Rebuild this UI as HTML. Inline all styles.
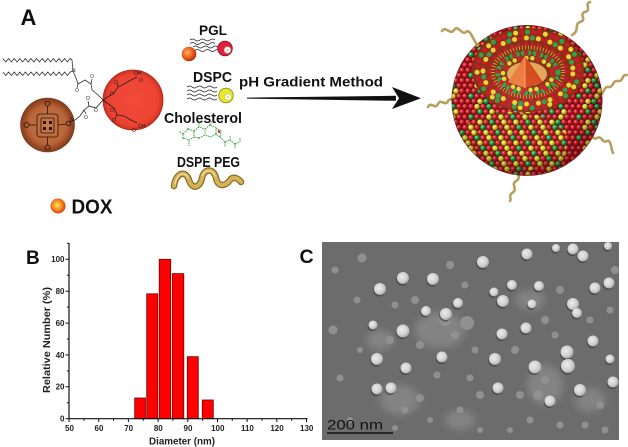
<!DOCTYPE html>
<html><head><meta charset="utf-8">
<style>
html,body{margin:0;padding:0;background:#fff;}
svg{display:block;}
text{font-family:"Liberation Sans",Arial,sans-serif;}
</style></head><body>
<svg width="628" height="447" viewBox="0 0 628 447" xmlns="http://www.w3.org/2000/svg" xmlns:xlink="http://www.w3.org/1999/xlink">
<defs>
 <radialGradient id="gR" cx="0.35" cy="0.35" r="0.7"><stop offset="0" stop-color="#ff9a90"/><stop offset="0.4" stop-color="#e02030"/><stop offset="1" stop-color="#800a14"/></radialGradient>
 <radialGradient id="gY" cx="0.35" cy="0.35" r="0.7"><stop offset="0" stop-color="#ffffc0"/><stop offset="0.4" stop-color="#e4dc30"/><stop offset="1" stop-color="#8c8010"/></radialGradient>
 <radialGradient id="gG" cx="0.35" cy="0.35" r="0.7"><stop offset="0" stop-color="#b0f0b0"/><stop offset="0.4" stop-color="#22a848"/><stop offset="1" stop-color="#0c5424"/></radialGradient>
 <radialGradient id="gDox" cx="0.45" cy="0.45" r="0.6"><stop offset="0" stop-color="#ffe060"/><stop offset="0.5" stop-color="#f89020"/><stop offset="1" stop-color="#c83010"/></radialGradient>
 <radialGradient id="gOr" cx="0.4" cy="0.4" r="0.65"><stop offset="0" stop-color="#ffb060"/><stop offset="0.6" stop-color="#e85a18"/><stop offset="1" stop-color="#a02808"/></radialGradient>
 <radialGradient id="gBrown" cx="0.5" cy="0.5" r="0.5"><stop offset="0" stop-color="#c87a4a"/><stop offset="0.7" stop-color="#b86438"/><stop offset="0.85" stop-color="#9c4c28"/><stop offset="1" stop-color="#7e3a1c"/></radialGradient>
 <radialGradient id="gRed" cx="0.5" cy="0.5" r="0.5"><stop offset="0" stop-color="#f24c3c"/><stop offset="0.85" stop-color="#ec4232"/><stop offset="1" stop-color="#c83022"/></radialGradient>
 <radialGradient id="shade" cx="0.45" cy="0.42" r="0.58"><stop offset="0" stop-color="#fff" stop-opacity="0.08"/><stop offset="0.75" stop-color="#000" stop-opacity="0"/><stop offset="1" stop-color="#3c0000" stop-opacity="0.35"/></radialGradient>
 <radialGradient id="pg" cx="0.4" cy="0.4" r="0.6"><stop offset="0" stop-color="#ececec"/><stop offset="0.7" stop-color="#cfcfcf"/><stop offset="1" stop-color="#a8a8a8"/></radialGradient>
 <pattern id="patA" patternUnits="userSpaceOnUse" width="36" height="20.8">
  <rect width="36" height="20.8" fill="#5a0c0c"/>
  <circle cx="3" cy="2.6" r="2.8" fill="url(#gR)"/><circle cx="9" cy="2.6" r="2.8" fill="url(#gY)"/><circle cx="15" cy="2.6" r="2.8" fill="url(#gR)"/><circle cx="21" cy="2.6" r="2.8" fill="url(#gG)"/><circle cx="27" cy="2.6" r="2.8" fill="url(#gR)"/><circle cx="33" cy="2.6" r="2.8" fill="url(#gR)"/>
  <circle cx="0" cy="7.8" r="2.8" fill="url(#gR)"/><circle cx="6" cy="7.8" r="2.8" fill="url(#gR)"/><circle cx="12" cy="7.8" r="2.8" fill="url(#gG)"/><circle cx="18" cy="7.8" r="2.8" fill="url(#gR)"/><circle cx="24" cy="7.8" r="2.8" fill="url(#gY)"/><circle cx="30" cy="7.8" r="2.8" fill="url(#gR)"/><circle cx="36" cy="7.8" r="2.8" fill="url(#gR)"/>
  <circle cx="3" cy="13" r="2.8" fill="url(#gG)"/><circle cx="9" cy="13" r="2.8" fill="url(#gR)"/><circle cx="15" cy="13" r="2.8" fill="url(#gR)"/><circle cx="21" cy="13" r="2.8" fill="url(#gY)"/><circle cx="27" cy="13" r="2.8" fill="url(#gR)"/><circle cx="33" cy="13" r="2.8" fill="url(#gR)"/>
  <circle cx="0" cy="18.2" r="2.8" fill="url(#gR)"/><circle cx="6" cy="18.2" r="2.8" fill="url(#gR)"/><circle cx="12" cy="18.2" r="2.8" fill="url(#gY)"/><circle cx="18" cy="18.2" r="2.8" fill="url(#gG)"/><circle cx="24" cy="18.2" r="2.8" fill="url(#gR)"/><circle cx="30" cy="18.2" r="2.8" fill="url(#gR)"/><circle cx="36" cy="18.2" r="2.8" fill="url(#gR)"/>
 </pattern>
 <pattern id="patB" patternUnits="userSpaceOnUse" width="36" height="20.8">
  <rect width="36" height="20.8" fill="#5a200c"/>
  <circle cx="3" cy="2.6" r="2.8" fill="url(#gY)"/><circle cx="9" cy="2.6" r="2.8" fill="url(#gR)"/><circle cx="15" cy="2.6" r="2.8" fill="url(#gG)"/><circle cx="21" cy="2.6" r="2.8" fill="url(#gR)"/><circle cx="27" cy="2.6" r="2.8" fill="url(#gY)"/><circle cx="33" cy="2.6" r="2.8" fill="url(#gR)"/>
  <circle cx="0" cy="7.8" r="2.8" fill="url(#gR)"/><circle cx="6" cy="7.8" r="2.8" fill="url(#gY)"/><circle cx="12" cy="7.8" r="2.8" fill="url(#gR)"/><circle cx="18" cy="7.8" r="2.8" fill="url(#gY)"/><circle cx="24" cy="7.8" r="2.8" fill="url(#gR)"/><circle cx="30" cy="7.8" r="2.8" fill="url(#gG)"/><circle cx="36" cy="7.8" r="2.8" fill="url(#gR)"/>
  <circle cx="3" cy="13" r="2.8" fill="url(#gR)"/><circle cx="9" cy="13" r="2.8" fill="url(#gG)"/><circle cx="15" cy="13" r="2.8" fill="url(#gR)"/><circle cx="21" cy="13" r="2.8" fill="url(#gY)"/><circle cx="27" cy="13" r="2.8" fill="url(#gR)"/><circle cx="33" cy="13" r="2.8" fill="url(#gY)"/>
  <circle cx="0" cy="18.2" r="2.8" fill="url(#gY)"/><circle cx="6" cy="18.2" r="2.8" fill="url(#gR)"/><circle cx="12" cy="18.2" r="2.8" fill="url(#gY)"/><circle cx="18" cy="18.2" r="2.8" fill="url(#gR)"/><circle cx="24" cy="18.2" r="2.8" fill="url(#gG)"/><circle cx="30" cy="18.2" r="2.8" fill="url(#gR)"/><circle cx="36" cy="18.2" r="2.8" fill="url(#gY)"/>
 </pattern>
 <clipPath id="sph"><circle cx="527" cy="100.5" r="75"/></clipPath>
 <clipPath id="tem"><rect x="322" y="242" width="297" height="198"/></clipPath>
 <filter id="bl" x="-50%" y="-50%" width="200%" height="200%"><feGaussianBlur stdDeviation="4"/></filter>
 <g id="bp">
  <circle cx="403" cy="278" r="6"/><circle cx="433" cy="279" r="6"/><circle cx="380" cy="289" r="6"/><circle cx="483" cy="262" r="6"/><circle cx="527" cy="254" r="5.5"/><circle cx="573" cy="249" r="5.5"/><circle cx="583" cy="256" r="5.5"/><circle cx="595" cy="288" r="5.5"/><circle cx="609" cy="283" r="5.5"/><circle cx="512" cy="285" r="5"/><circle cx="539" cy="286" r="5"/><circle cx="503" cy="301" r="6"/><circle cx="494" cy="292" r="4.5"/><circle cx="458" cy="303" r="5"/><circle cx="426" cy="311" r="5"/><circle cx="446" cy="314" r="6"/><circle cx="532" cy="304" r="4.5"/><circle cx="573" cy="304" r="6"/><circle cx="577" cy="313" r="5"/><circle cx="373" cy="325" r="4.5"/><circle cx="403" cy="331" r="6.5"/><circle cx="502" cy="334" r="5.5"/><circle cx="526" cy="328" r="5.5"/><circle cx="593" cy="341" r="5.5"/><circle cx="377" cy="359" r="6"/><circle cx="442" cy="357" r="5.5"/><circle cx="495" cy="359" r="6"/><circle cx="535" cy="367" r="6.5"/><circle cx="567" cy="352" r="6.5"/><circle cx="568" cy="366" r="7"/><circle cx="610" cy="359" r="4.5"/><circle cx="406" cy="368" r="5.5"/><circle cx="377" cy="389" r="5.5"/><circle cx="391" cy="388" r="5.5"/><circle cx="498" cy="388" r="5.5"/><circle cx="580" cy="390" r="6"/><circle cx="613" cy="382" r="5.5"/><circle cx="550" cy="401" r="5.5"/><circle cx="556" cy="248" r="4"/><circle cx="608" cy="246" r="4"/>
 </g>
 <g id="dp">
  <circle cx="333" cy="330" r="4.5"/><circle cx="362" cy="258" r="4.5"/><circle cx="467" cy="323" r="7"/><circle cx="445" cy="320" r="6"/><circle cx="340" cy="378" r="3.5"/><circle cx="357" cy="300" r="3.5"/><circle cx="390" cy="340" r="4"/><circle cx="420" cy="345" r="4"/><circle cx="455" cy="335" r="4"/><circle cx="470" cy="378" r="3.5"/><circle cx="335" cy="270" r="3.5"/><circle cx="360" cy="350" r="3"/><circle cx="415" cy="300" r="4"/><circle cx="437" cy="375" r="3.5"/><circle cx="420" cy="398" r="4"/><circle cx="405" cy="410" r="3.5"/><circle cx="430" cy="420" r="3"/><circle cx="460" cy="410" r="3.5"/><circle cx="480" cy="395" r="4"/><circle cx="475" cy="350" r="3.5"/><circle cx="515" cy="350" r="4"/><circle cx="520" cy="395" r="4"/><circle cx="545" cy="320" r="4"/><circle cx="555" cy="335" r="3.5"/><circle cx="560" cy="290" r="4"/><circle cx="590" cy="320" r="3.5"/><circle cx="600" cy="405" r="4"/><circle cx="585" cy="425" r="3.5"/><circle cx="560" cy="425" r="3.5"/><circle cx="530" cy="420" r="3.5"/><circle cx="510" cy="430" r="3"/><circle cx="480" cy="430" r="3"/><circle cx="610" cy="310" r="3.5"/><circle cx="615" cy="270" r="4"/><circle cx="450" cy="265" r="4"/><circle cx="465" cy="285" r="3.5"/><circle cx="350" cy="420" r="3"/><circle cx="395" cy="428" r="3"/><circle cx="538" cy="395" r="5"/><circle cx="545" cy="380" r="4"/><circle cx="395" cy="305" r="3.5"/><circle cx="605" cy="430" r="3.5"/>
 </g>
</defs>

<rect width="628" height="447" fill="#fff"/>

<!-- ===== Panel A ===== -->
<text x="20.5" y="25" font-size="22" font-weight="bold" fill="#111">A</text>

<g fill="none" stroke="#333" stroke-width="0.8">
 <polyline points="3,58.5 5.8,62 8.6,58.5 11.4,62 14.2,58.5 17,62 19.8,58.5 22.6,62 25.4,58.5 28.2,62 31,58.5 33.8,62 36.6,58.5 39.4,62 42.2,58.5 45,62 47.8,58.5 50.6,62 53.4,58.5 56.2,62 59,58.5 61.8,62 64.6,58.5 67.4,62 70.2,58.5 72,60 73,71"/>
 <polyline points="3,72 5.8,75.5 8.6,72 11.4,75.5 14.2,72 17,75.5 19.8,72 22.6,75.5 25.4,72 28.2,75.5 31,72 33.8,75.5 36.6,72 39.4,75.5 42.2,72 45,75.5 47.8,72 50.6,75.5 53.4,72 56.2,75.5 59,72 61.8,75.5 64.6,72 67.4,75.5 70.2,72 73,71"/>
 <polyline points="73,71 76,78 78,84 85,80 91,84 92,90 97,94 103,100"/>
 <line x1="78" y1="84" x2="77" y2="88"/>
 <line x1="91" y1="84" x2="92" y2="79"/>
</g>
<text x="75" y="92" font-size="5" fill="#333">O</text>
<text x="90" y="78" font-size="5" fill="#333">O</text>

<circle cx="47.5" cy="125" r="27.3" fill="url(#gBrown)"/>
<g fill="none" stroke="#2a140a" stroke-width="0.8">
 <rect x="37" y="114" width="21" height="23" rx="3"/>
 <rect x="41" y="118" width="13" height="15" rx="1"/>
 <line x1="47.5" y1="114" x2="47.5" y2="106"/><line x1="47.5" y1="137" x2="47.5" y2="145"/>
 <line x1="37" y1="125" x2="29" y2="125"/><line x1="58" y1="125" x2="66" y2="124"/>
 <circle cx="47.5" cy="103.5" r="2.5"/><circle cx="47.5" cy="147.5" r="2.5"/><circle cx="26.5" cy="125" r="2.5"/><circle cx="68.5" cy="123.5" r="2.3"/>
</g>
<g fill="#2a140a"><rect x="43" y="121" width="3" height="3"/><rect x="49" y="121" width="3" height="3"/><rect x="43" y="127" width="3" height="3"/><rect x="49" y="127" width="3" height="3"/></g>

<circle cx="133" cy="100" r="30" fill="url(#gRed)" stroke="#b02818" stroke-width="0.8"/>
<g fill="none" stroke="#222" stroke-width="0.8">
 <polyline points="103,100 114,93 118,87 124,84 131,80 137,77"/>
 <line x1="118" y1="87" x2="117" y2="83"/>
 <polyline points="103,100 114,108 117,115 124,116 131,120 137,123"/>
 <line x1="117" y1="115" x2="115" y2="119"/>
 <polyline points="103,100 96,108 89,106 88,101"/>
 <polyline points="89,106 84,110 80,116 75,120 69,122"/>
 <line x1="84" y1="110" x2="86" y2="114"/>
</g>
<g font-size="5" fill="#222">
 <text x="134" y="75">OH</text><text x="139" y="82">O</text>
 <text x="138" y="128">OH</text><text x="132" y="132">O</text>
 <text x="110" y="95">O</text><text x="110" y="112">O</text>
 <text x="114" y="84">O</text><text x="112" y="122">O</text>
 <text x="94" y="112">O</text><text x="86" y="100">O</text>
 <text x="70" y="121">N</text><text x="84" y="119">O</text>
 <text x="72" y="72">N</text>
</g>

<circle cx="58" cy="206" r="7.5" fill="url(#gDox)"/>
<text x="71.5" y="213.5" font-size="20" font-weight="bold" fill="#111" textLength="41" lengthAdjust="spacingAndGlyphs">DOX</text>

<text x="199" y="35" font-size="14" font-weight="bold" fill="#111" textLength="28" lengthAdjust="spacingAndGlyphs">PGL</text>
<g fill="none" stroke="#222" stroke-width="0.8">
 <path d="M190,40 q2.5,-2 5,0 t5,0 t5,0 t5,0 t5,0"/>
 <path d="M190,43.5 q2.5,-2 5,0 t5,0 t5,0 t5,0 t5,0"/>
 <path d="M193,47 q2.5,-2 5,0 t5,0 t5,0 t5,0 t5,0"/>
 <path d="M195,50.5 q2.5,-2 5,0 t5,0 t5,0 t5,0 t5,0"/>
</g>
<circle cx="189" cy="54" r="7.3" fill="url(#gOr)"/>
<circle cx="225" cy="48.5" r="7.3" fill="#e02040" stroke="#901020" stroke-width="0.8"/>
<circle cx="227.5" cy="50" r="3.2" fill="#fff" stroke="#f0c0c0" stroke-width="0.6"/>
<circle cx="227.5" cy="50" r="1.3" fill="#f0d070"/>

<text x="193" y="82" font-size="15" font-weight="bold" fill="#111" textLength="39" lengthAdjust="spacingAndGlyphs">DSPC</text>
<g fill="none" stroke="#222" stroke-width="0.8">
 <path d="M187,87 q2.5,-2 5,0 t5,0 t5,0 t5,0 t5,0 t5,0"/>
 <path d="M187,91 q2.5,-2 5,0 t5,0 t5,0 t5,0 t5,0 t5,0"/>
 <path d="M187,95 q2.5,-2 5,0 t5,0 t5,0 t5,0 t5,0 t5,0"/>
 <path d="M187,99 q2.5,-2 5,0 t5,0 t5,0 t5,0 t5,0 t5,0"/>
</g>
<circle cx="226" cy="95.5" r="7.3" fill="#e4e630" stroke="#8a8a10" stroke-width="0.8"/>
<circle cx="228" cy="97" r="3.2" fill="#fff" stroke="#c8c860" stroke-width="0.6"/>
<circle cx="228" cy="97" r="1.2" fill="#e8e060"/>

<text x="164" y="123" font-size="15" font-weight="bold" fill="#111" textLength="78" lengthAdjust="spacingAndGlyphs">Cholesterol</text>
<g stroke="#3c9a44" stroke-width="0.9" fill="none" stroke-dasharray="1.6 0.8">
 <polyline points="183,134 188,129 194,131 194,137 189,140 183,138 183,134"/>
 <polyline points="194,131 199,127 205,129 205,135 199,138 194,137"/>
 <polyline points="205,129 210,125 216,128 216,134 211,137 205,135"/>
 <polyline points="216,128 221,131 220,137 216,134"/>
 <polyline points="220,137 225,142 230,140 235,144 240,142"/>
 <line x1="199" y1="127" x2="199" y2="122"/><line x1="210" y1="125" x2="212" y2="121"/>
 <line x1="183" y1="134" x2="179" y2="131"/><line x1="189" y1="140" x2="189" y2="146"/>
 <line x1="225" y1="142" x2="225" y2="147"/><line x1="230" y1="140" x2="230" y2="135"/><line x1="235" y1="144" x2="235" y2="148"/><line x1="240" y1="142" x2="240" y2="137"/>
</g>
<g fill="#5ab860"><circle cx="188" cy="129" r="1"/><circle cx="199" cy="138" r="1"/><circle cx="210" cy="125" r="1"/><circle cx="183" cy="138" r="1"/><circle cx="216" cy="134" r="1"/><circle cx="225" cy="142" r="1"/><circle cx="235" cy="144" r="1"/><circle cx="194" cy="131" r="1"/></g>
<circle cx="219" cy="131.5" r="1.3" fill="#d02020"/>

<text x="177" y="167" font-size="15" font-weight="bold" fill="#111" textLength="63" lengthAdjust="spacingAndGlyphs">DSPE PEG</text>
<path d="M174,186 C176,172 186,170 189,180 C192,190 200,188 202,178 C204,168 214,168 216,178 C218,188 226,186 230,180 C233,176 238,178 241,182" fill="none" stroke="#8a6a28" stroke-width="6.5" stroke-linecap="round"/>
<path d="M174,186 C176,172 186,170 189,180 C192,190 200,188 202,178 C204,168 214,168 216,178 C218,188 226,186 230,180 C233,176 238,178 241,182" fill="none" stroke="#d4b458" stroke-width="4" stroke-linecap="round"/>
<path d="M175,184 C177,173 185,171 188,178 M202,176 C205,169 212,169 215,176" fill="none" stroke="#f0dc98" stroke-width="1.2" stroke-linecap="round"/>

<text x="239" y="86.5" font-size="14" font-weight="bold" fill="#111" textLength="144" lengthAdjust="spacingAndGlyphs">pH Gradient Method</text>
<polygon points="247,97.6 396,95.8 396,100.8 247,98.6" fill="#111"/>
<polygon points="392,87 421,98.3 392,109 399,98.3" fill="#111"/>

<g fill="none" stroke="#b8a060" stroke-width="2.6" stroke-linecap="round">
 <path d="M442,31 C446,25 450,36 454,30 C458,24 462,36 466,32 C470,28 473,40 478,46"/>
 <path d="M590,2 C584,4 592,10 585,12 C578,14 588,20 580,22 C574,24 580,31 572,35"/>
 <path d="M627,75 C621,74 624,82 618,81 C612,80 614,88 608,87 C604,86 604,94 600,95"/>
 <path d="M428,107 C431,101 435,110 438,104 C441,98 445,107 448,101 C450,98 452,100 455,98"/>
 <path d="M587,135 C592,132 592,141 597,138 C602,135 602,144 607,141 C611,139 611,149 613,153"/>
 <path d="M520,168 C514,172 523,177 516,181 C510,185 519,189 512,193 C508,196 512,199 510,201"/>
</g>

<circle cx="527" cy="100.5" r="75.5" fill="#6a1010"/>
<g clip-path="url(#sph)">
 <rect x="450" y="24" width="156" height="156" fill="url(#patA)"/>
 <ellipse cx="512" cy="142" rx="55" ry="30" fill="url(#patB)"/>
 <ellipse cx="528" cy="70" rx="56" ry="42" fill="#8a3014"/>
 <ellipse cx="528" cy="70" rx="51" ry="38" fill="none" stroke="#c81c28" stroke-width="5" stroke-dasharray="0 6" stroke-linecap="round"/>
 <ellipse cx="528" cy="70" rx="51" ry="38" fill="none" stroke="#28a848" stroke-width="5" stroke-dasharray="0 18" stroke-dashoffset="6" stroke-linecap="round"/>
 <ellipse cx="528" cy="70" rx="51" ry="38" fill="none" stroke="#e4dc30" stroke-width="5" stroke-dasharray="0 30" stroke-dashoffset="12" stroke-linecap="round"/>
 <ellipse cx="528" cy="71" rx="45" ry="33" fill="none" stroke="#c81c28" stroke-width="5" stroke-dasharray="0 6" stroke-linecap="round"/>
 <ellipse cx="528" cy="71" rx="45" ry="33" fill="none" stroke="#28a848" stroke-width="5" stroke-dasharray="0 24" stroke-dashoffset="3" stroke-linecap="round"/>
 <ellipse cx="528" cy="71" rx="45" ry="33" fill="none" stroke="#e4dc30" stroke-width="5" stroke-dasharray="0 12" stroke-dashoffset="9" stroke-linecap="round"/>
 <ellipse cx="528" cy="72" rx="38.5" ry="27.5" fill="none" stroke="#c81c28" stroke-width="4.5" stroke-dasharray="0 7" stroke-linecap="round"/>
 <ellipse cx="528" cy="72" rx="35" ry="24.5" fill="none" stroke="#d89a38" stroke-width="4" stroke-dasharray="1 2"/>
 <ellipse cx="528" cy="73" rx="30" ry="20" fill="none" stroke="#28a848" stroke-width="5" stroke-dasharray="0 6" stroke-linecap="round"/>
 <ellipse cx="528" cy="73" rx="30" ry="20" fill="none" stroke="#c81c28" stroke-width="5" stroke-dasharray="0 12" stroke-dashoffset="3" stroke-linecap="round"/>
 <ellipse cx="528" cy="74" rx="25" ry="16" fill="none" stroke="#e4dc30" stroke-width="4.5" stroke-dasharray="0 6" stroke-linecap="round"/>
 <ellipse cx="528" cy="74" rx="25" ry="16" fill="none" stroke="#c81c28" stroke-width="4.5" stroke-dasharray="0 18" stroke-linecap="round"/>
 <ellipse cx="527" cy="74" rx="20" ry="12" fill="#e8a858"/>
 <polygon points="525,56 508,82 525,88" fill="#f07838"/>
 <polygon points="525,56 525,88 543,82" fill="#d84818"/>
 <line x1="525" y1="56" x2="525" y2="88" stroke="#f8b080" stroke-width="0.8"/>
 <circle cx="527" cy="100.5" r="75" fill="url(#shade)"/>
</g>

<!-- ===== Panel B ===== -->
<text x="26" y="264" font-size="19" font-weight="bold" fill="#111">B</text>
<g fill="#ff0000" stroke="#700" stroke-width="0.8">
 <rect x="134.7" y="398" width="10.8" height="20.7"/>
 <rect x="146.7" y="293.8" width="11" height="124.9"/>
 <rect x="159.2" y="259.3" width="11.5" height="159.4"/>
 <rect x="172.4" y="273.6" width="11.4" height="145.1"/>
 <rect x="187.3" y="356.7" width="11" height="62"/>
 <rect x="202.3" y="400" width="11" height="18.7"/>
</g>
<g stroke="#111" stroke-width="1.2" fill="none">
 <line x1="69" y1="243" x2="69" y2="419.3"/>
 <line x1="68.4" y1="418.7" x2="307.5" y2="418.7"/>
</g>
<g stroke="#111" stroke-width="1">
 <line x1="65.5" y1="418.7" x2="69" y2="418.7"/><line x1="65.5" y1="386.8" x2="69" y2="386.8"/><line x1="65.5" y1="354.9" x2="69" y2="354.9"/><line x1="65.5" y1="323.1" x2="69" y2="323.1"/><line x1="65.5" y1="291.2" x2="69" y2="291.2"/><line x1="65.5" y1="259.3" x2="69" y2="259.3"/>
 <line x1="67" y1="402.8" x2="69" y2="402.8"/><line x1="67" y1="370.9" x2="69" y2="370.9"/><line x1="67" y1="339" x2="69" y2="339"/><line x1="67" y1="307.1" x2="69" y2="307.1"/><line x1="67" y1="275.2" x2="69" y2="275.2"/><line x1="67" y1="243.4" x2="69" y2="243.4"/>
 <line x1="69" y1="418.7" x2="69" y2="422"/><line x1="98.7" y1="418.7" x2="98.7" y2="422"/><line x1="128.4" y1="418.7" x2="128.4" y2="422"/><line x1="158.1" y1="418.7" x2="158.1" y2="422"/><line x1="187.8" y1="418.7" x2="187.8" y2="422"/><line x1="217.5" y1="418.7" x2="217.5" y2="422"/><line x1="247.1" y1="418.7" x2="247.1" y2="422"/><line x1="276.8" y1="418.7" x2="276.8" y2="422"/><line x1="306.5" y1="418.7" x2="306.5" y2="422"/>
 <line x1="83.9" y1="418.7" x2="83.9" y2="420.8"/><line x1="113.5" y1="418.7" x2="113.5" y2="420.8"/><line x1="143.2" y1="418.7" x2="143.2" y2="420.8"/><line x1="172.9" y1="418.7" x2="172.9" y2="420.8"/><line x1="202.6" y1="418.7" x2="202.6" y2="420.8"/><line x1="232.3" y1="418.7" x2="232.3" y2="420.8"/><line x1="262" y1="418.7" x2="262" y2="420.8"/><line x1="291.7" y1="418.7" x2="291.7" y2="420.8"/>
</g>
<g font-size="8" font-weight="bold" fill="#222" text-anchor="end">
 <text x="64.5" y="421.6">0</text><text x="64.5" y="389.7">20</text><text x="64.5" y="357.8">40</text><text x="64.5" y="326">60</text><text x="64.5" y="294.1">80</text><text x="64.5" y="262.2">100</text>
</g>
<g font-size="8" font-weight="bold" fill="#222" text-anchor="middle">
 <text x="69.5" y="431">50</text><text x="99" y="431">60</text><text x="128.7" y="431">70</text><text x="158.3" y="431">80</text><text x="188" y="431">90</text><text x="217.8" y="431">100</text><text x="247.4" y="431">110</text><text x="277" y="431">120</text><text x="306.7" y="431">130</text>
</g>
<text x="182" y="444.5" font-size="10" font-weight="bold" fill="#222" text-anchor="middle" textLength="66" lengthAdjust="spacingAndGlyphs">Diameter (nm)</text>
<text transform="translate(49.8,340) rotate(-90)" font-size="10.5" font-weight="bold" fill="#222" text-anchor="middle" textLength="106" lengthAdjust="spacingAndGlyphs">Relative Number (%)</text>

<!-- ===== Panel C ===== -->
<text x="299.5" y="263" font-size="19.5" font-weight="bold" fill="#111">C</text>
<g clip-path="url(#tem)">
 <rect x="322" y="242" width="297" height="198" fill="#6c6c6c"/>
 <g filter="url(#bl)" fill="#8e8e8e" opacity="0.7">
  <ellipse cx="440" cy="330" rx="25" ry="18"/>
  <ellipse cx="400" cy="400" rx="20" ry="15"/>
  <ellipse cx="545" cy="385" rx="18" ry="20"/>
  <ellipse cx="590" cy="400" rx="15" ry="12"/>
  <ellipse cx="530" cy="300" rx="15" ry="10"/>
  <ellipse cx="380" cy="340" rx="14" ry="10"/>
  <ellipse cx="460" cy="420" rx="15" ry="10"/>
 </g>
 <use xlink:href="#dp" href="#dp" fill="#909090"/>
 <use xlink:href="#bp" href="#bp" fill="#333" opacity="0.55" transform="translate(-0.8,1.6)"/>
 <use xlink:href="#bp" href="#bp" fill="url(#pg)"/>
 <text x="327" y="429.5" font-size="14" fill="#111" textLength="56" lengthAdjust="spacingAndGlyphs">200  nm</text>
 <line x1="327" y1="433" x2="393" y2="433" stroke="#111" stroke-width="1.6"/>
</g>
</svg>
</body></html>
